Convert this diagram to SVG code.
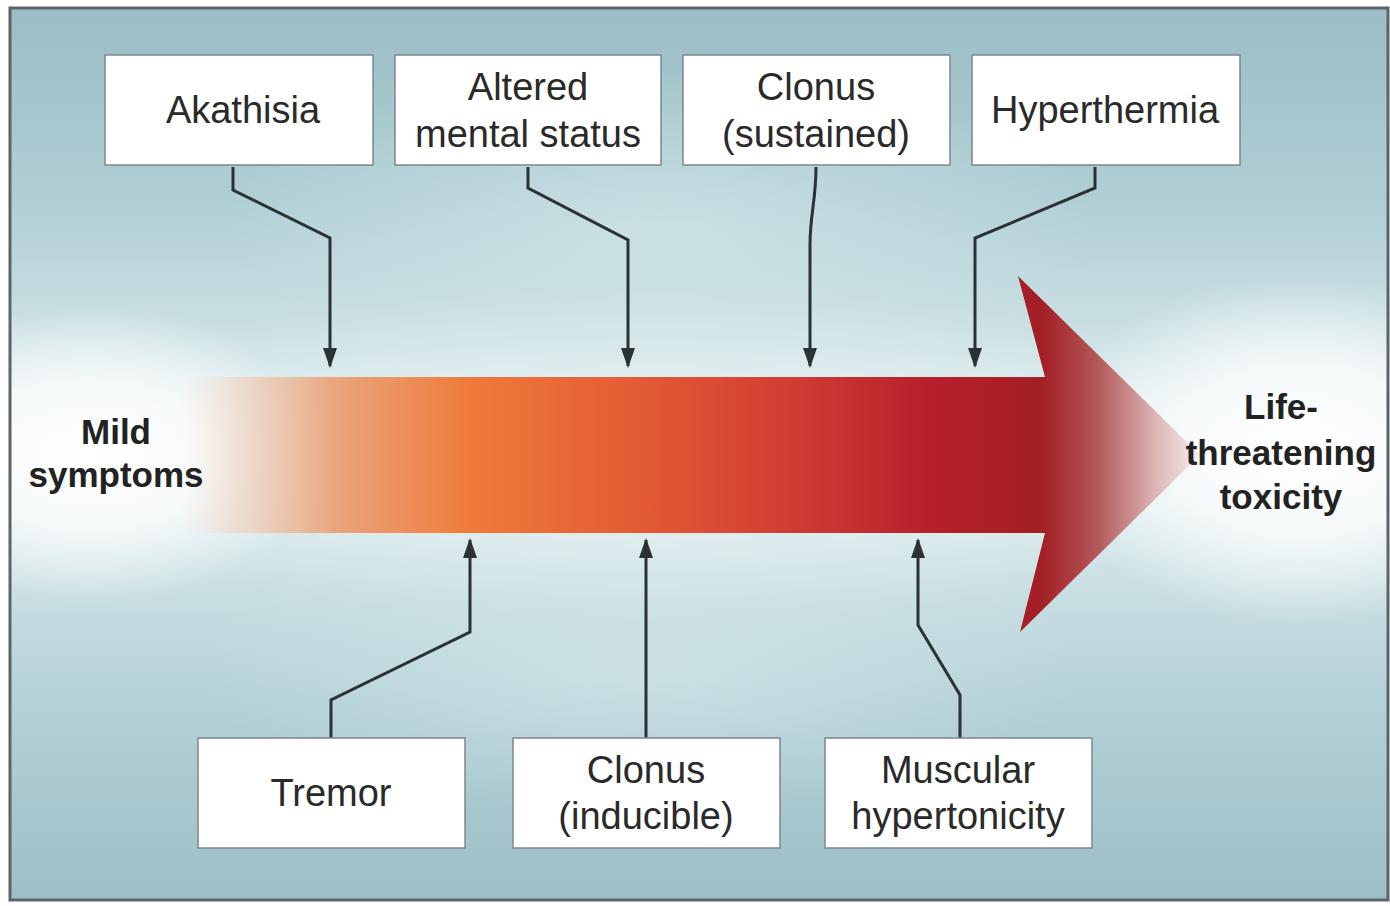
<svg xmlns="http://www.w3.org/2000/svg" width="1390" height="906" viewBox="0 0 1390 906">
<style>
.box{fill:#ffffff;stroke:#7d878c;stroke-width:1.5}
.lbl{font-family:"Liberation Sans",Arial,sans-serif;font-size:38px;fill:#2a2a2a;text-anchor:middle}
.big{font-family:"Liberation Sans",Arial,sans-serif;font-size:35px;font-weight:bold;fill:#222;text-anchor:middle}
.conn{fill:none;stroke:#2b3236;stroke-width:3;stroke-linejoin:miter}
</style>
<defs>
<marker id="ah" viewBox="0 0 20 14" refX="18" refY="7" markerWidth="20" markerHeight="14" markerUnits="userSpaceOnUse" orient="auto">
<path d="M0,0 L20,7 L0,14 Z" fill="#2b3236"/>
</marker>
<linearGradient id="bgv" x1="0" y1="0" x2="0" y2="1">
<stop offset="0" stop-color="#9bbdc5"/>
<stop offset="0.22" stop-color="#b0cfd5"/>
<stop offset="0.4" stop-color="#d2e5e8"/>
<stop offset="0.5" stop-color="#e2eef0"/>
<stop offset="0.6" stop-color="#d2e5e8"/>
<stop offset="0.78" stop-color="#b3d1d7"/>
<stop offset="1" stop-color="#9dbfc6"/>
</linearGradient>
<radialGradient id="glowL" cx="0.5" cy="0.5" r="0.5">
<stop offset="0" stop-color="#ffffff" stop-opacity="1"/>
<stop offset="0.5" stop-color="#ffffff" stop-opacity="0.75"/>
<stop offset="1" stop-color="#ffffff" stop-opacity="0"/>
</radialGradient>
<radialGradient id="glowC" cx="0.5" cy="0.5" r="0.5">
<stop offset="0" stop-color="#d3e7ea" stop-opacity="0.7"/>
<stop offset="1" stop-color="#d3e7ea" stop-opacity="0"/>
</radialGradient>
<linearGradient id="arrowG" gradientUnits="userSpaceOnUse" x1="180" y1="0" x2="1200" y2="0">
<stop offset="0" stop-color="#f3e3d8" stop-opacity="0"/>
<stop offset="0.06" stop-color="#efd2c0" stop-opacity="0.7"/>
<stop offset="0.15" stop-color="#e9a67e"/>
<stop offset="0.285" stop-color="#f07a3a"/>
<stop offset="0.45" stop-color="#e35b34"/>
<stop offset="0.61" stop-color="#cf3a33"/>
<stop offset="0.735" stop-color="#b81f2b"/>
<stop offset="0.845" stop-color="#a31f25"/>
<stop offset="0.9" stop-color="#b3595a"/>
<stop offset="0.955" stop-color="#dbb4b3"/>
<stop offset="1" stop-color="#f5eeee"/>
</linearGradient>
</defs>

<rect x="0" y="0" width="1390" height="906" fill="#ffffff"/>
<g id="background">
<rect x="10" y="8" width="1378" height="892" fill="url(#bgv)"/>
<ellipse cx="660" cy="230" rx="440" ry="160" fill="url(#glowC)"/>
<ellipse cx="640" cy="670" rx="440" ry="140" fill="url(#glowC)"/>
<ellipse cx="90" cy="455" rx="230" ry="150" fill="url(#glowL)"/>
<ellipse cx="1300" cy="450" rx="250" ry="175" fill="url(#glowL)"/>
<ellipse cx="650" cy="455" rx="650" ry="170" fill="url(#glowL)" opacity="0.35"/>
<rect x="10" y="8" width="1378" height="892" fill="none" stroke="#5d6469" stroke-width="3"/>
</g>

<g id="main-arrow">
<path d="M180,377 L1045,377 L1018,276 L1200,455 L1020,632 L1045,533 L180,533 Z" fill="url(#arrowG)"/>
</g>

<g id="connectors">
<path class="conn" d="M233,167 L233,190 L330,238 L330,366" marker-end="url(#ah)"/>
<path class="conn" d="M528,167 L528,188 L628,240 L628,366" marker-end="url(#ah)"/>
<path class="conn" d="M816,167 C816,200 810,215 810,245 L810,366" marker-end="url(#ah)"/>
<path class="conn" d="M1095,167 L1095,188 L975,238 L975,366" marker-end="url(#ah)"/>
<path class="conn" d="M331,738 L331,700 L470,632 L470,540" marker-end="url(#ah)"/>
<path class="conn" d="M646,738 L646,540" marker-end="url(#ah)"/>
<path class="conn" d="M960,738 L960,695 L918,625 L918,540" marker-end="url(#ah)"/>
</g>

<g id="node-akathisia">
<rect class="box" x="105" y="55" width="268" height="110"/>
<text class="lbl" x="243" y="123">Akathisia</text>
</g>
<g id="node-altered">
<rect class="box" x="395" y="55" width="266" height="110"/>
<text class="lbl" x="528" y="100">Altered</text>
<text class="lbl" x="528" y="147">mental status</text>
</g>
<g id="node-clonus-sustained">
<rect class="box" x="683" y="55" width="267" height="110"/>
<text class="lbl" x="816" y="100">Clonus</text>
<text class="lbl" x="816" y="147">(sustained)</text>
</g>
<g id="node-hyperthermia">
<rect class="box" x="972" y="55" width="268" height="110"/>
<text class="lbl" x="1105" y="123">Hyperthermia</text>
</g>
<g id="node-tremor">
<rect class="box" x="198" y="738" width="267" height="110"/>
<text class="lbl" x="331" y="806">Tremor</text>
</g>
<g id="node-clonus-inducible">
<rect class="box" x="513" y="738" width="267" height="110"/>
<text class="lbl" x="646" y="783">Clonus</text>
<text class="lbl" x="646" y="829">(inducible)</text>
</g>
<g id="node-muscular">
<rect class="box" x="825" y="738" width="267" height="110"/>
<text class="lbl" x="958" y="783">Muscular</text>
<text class="lbl" x="958" y="829">hypertonicity</text>
</g>
<g id="node-mild">
<text class="big" x="116" y="444">Mild</text>
<text class="big" x="116" y="487">symptoms</text>
</g>
<g id="node-life">
<text class="big" x="1281" y="419">Life-</text>
<text class="big" x="1281" y="465">threatening</text>
<text class="big" x="1281" y="509">toxicity</text>
</g>
</svg>
